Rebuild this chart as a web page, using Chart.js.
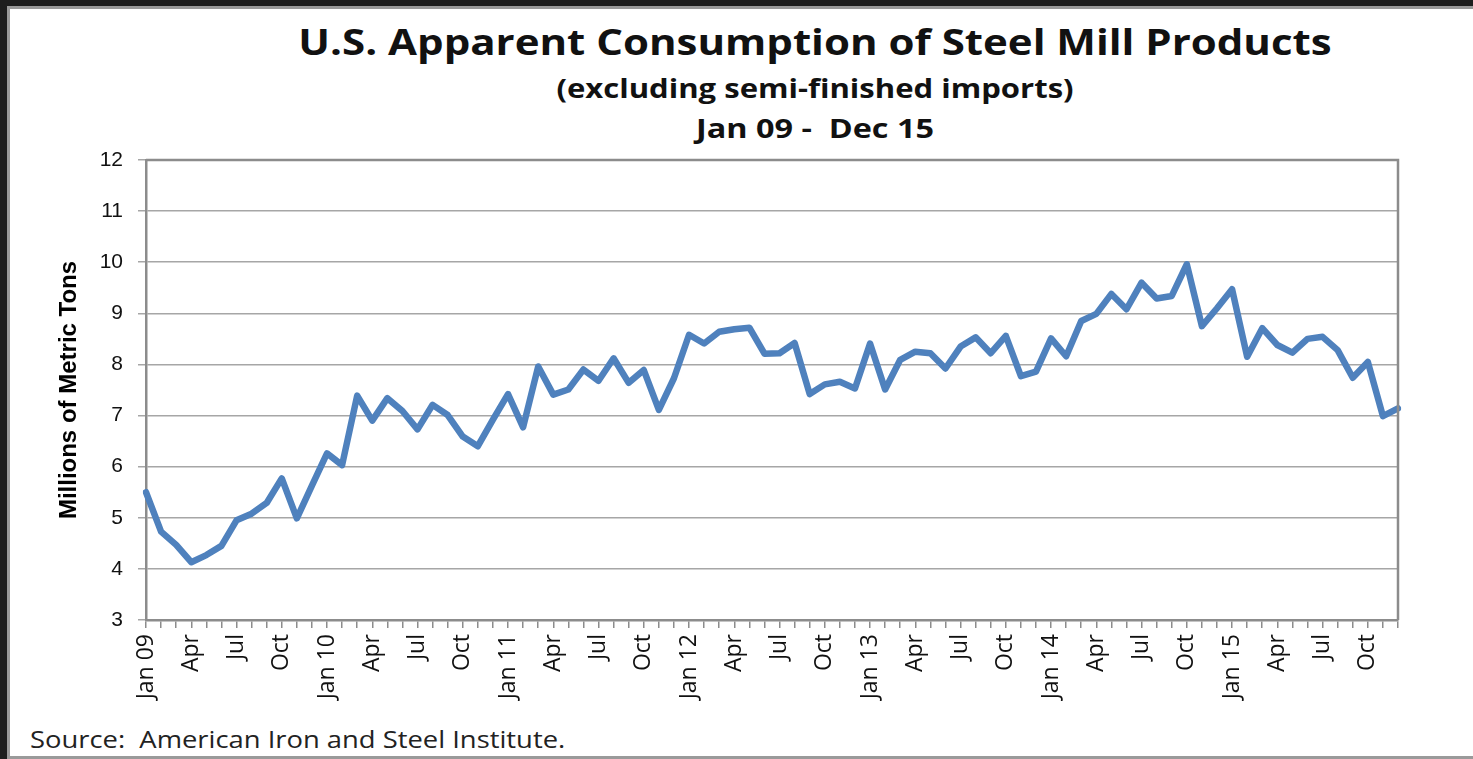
<!DOCTYPE html>
<html lang="en">
<head>
  <meta charset="UTF-8">
  <title>U.S. Apparent Consumption of Steel Mill Products</title>
  <script src="https://cdn.jsdelivr.net/npm/chart.js"></script>
  <style>
    html, body {
      margin: 0;
      padding: 0;
      width: 1473px;
      height: 759px;
      overflow: hidden;
      background: #1e1e1e;
    }

    .frame {
      position: absolute;
      left: 7px;
      top: 6px;
      width: 1470px;
      height: 747px;
      background: #fff;
      border: 3px solid #9a9a9a;
    }

    /* the original slide is stretched sideways, hence the scaleX */
    .head {
      position: absolute;
      left: 815px;
      text-align: center;
      font-family: 'Open Sans', sans-serif;
      font-weight: bold;
      color: #111;
      white-space: nowrap;
    }

    #title { top: 18px; font-size: 35px; line-height: 48px; transform: translateX(-50%) scaleX(1.2); }
    #subtitle { top: 69px; font-size: 27px; line-height: 38px; transform: translateX(-50%) scaleX(1.15); }
    #range { top: 109px; font-size: 27px; line-height: 38px; transform: translateX(-50%) scaleX(1.2); }

    #source {
      position: absolute;
      left: 30px;
      top: 723px;
      font-family: 'Open Sans', sans-serif;
      font-size: 23px;
      line-height: 32px;
      color: #222;
      white-space: nowrap;
      transform-origin: left center;
      transform: scaleX(1.19);
    }

    canvas {
      position: absolute;
      left: 0;
      top: 0;
    }
  </style>
</head>
<body>
  <div class="frame"></div>
  <div class="head" id="title">U.S. Apparent Consumption of Steel Mill Products</div>
  <div class="head" id="subtitle">(excluding semi-finished imports)</div>
  <div class="head" id="range">Jan 09 -&nbsp; Dec 15</div>
  <div id="source">Source:&nbsp; American Iron and Steel Institute.</div>

  <canvas id="steelChart" width="1473" height="759"></canvas>

  <script>
    // month names and years for the category axis
    const monthNames = ["Jan", "Feb", "Mar", "Apr", "May", "Jun", "Jul", "Aug", "Sep", "Oct", "Nov", "Dec"];
    const years = ["09", "10", "11", "12", "13", "14", "15"];

    // millions of metric tons, Jan 09 .. Dec 15
    const consumption2009 = [5.50, 4.73, 4.47, 4.13, 4.27, 4.45, 4.95, 5.08, 5.29, 5.77, 4.99, 5.63];
    const consumption2010 = [6.26, 6.03, 7.39, 6.90, 7.34, 7.09, 6.73, 7.21, 7.01, 6.59, 6.40, 6.92];
    const consumption2011 = [7.42, 6.77, 7.96, 7.41, 7.51, 7.90, 7.68, 8.12, 7.64, 7.89, 7.11, 7.73];
    const consumption2012 = [8.58, 8.41, 8.64, 8.69, 8.72, 8.21, 8.22, 8.42, 7.42, 7.61, 7.66, 7.53];
    const consumption2013 = [8.41, 7.51, 8.09, 8.25, 8.22, 7.92, 8.35, 8.53, 8.22, 8.56, 7.77, 7.86];
    const consumption2014 = [8.51, 8.16, 8.85, 8.99, 9.38, 9.08, 9.60, 9.29, 9.34, 9.96, 8.75, 9.10];
    const consumption2015 = [9.47, 8.15, 8.71, 8.38, 8.23, 8.50, 8.54, 8.28, 7.74, 8.05, 6.99, 7.14];

    const yMin = 3;
    const yMax = 12;

    const labels = [];
    years.forEach(y => {
      monthNames.forEach(m => {
        labels.push(m === "Jan" ? m + " " + y : m);
      });
    });

    const values = [].concat(
      consumption2009, consumption2010, consumption2011, consumption2012,
      consumption2013, consumption2014, consumption2015
    );

    // top and right edges of the plot box (Excel style)
    const plotFrame = {
      id: "plotFrame",
      afterDraw(chart) {
        const { ctx, chartArea: a } = chart;
        ctx.save();
        ctx.strokeStyle = "#8c8c8c";
        ctx.lineWidth = 2.5;
        ctx.beginPath();
        ctx.moveTo(a.left, a.top);
        ctx.lineTo(a.right, a.top);
        ctx.lineTo(a.right, a.bottom);
        ctx.stroke();
        ctx.restore();
      }
    };

    new Chart(document.getElementById("steelChart"), {
      type: "line",
      data: {
        labels,
        datasets: [{
          label: "Apparent consumption",
          data: values,
          borderColor: "#4f81bd",
          borderWidth: 6.5,
          borderJoinStyle: "round",
          borderCapStyle: "round",
          pointRadius: 0,
          tension: 0,
          fill: false
        }]
      },
      options: {
        responsive: false,
        animation: false,
        layout: {
          padding: { top: 160, right: 75, bottom: 0, left: 0 }
        },
        plugins: {
          legend: { display: false },
          tooltip: { enabled: false }
        },
        scales: {
          x: {
            afterFit(scale) { scale.height = 139; },
            grid: {
              drawOnChartArea: false,
              drawTicks: true,
              tickLength: 8,
              color: "#8c8c8c",
              lineWidth: 1.5
            },
            border: { color: "#8c8c8c", width: 2.5 },
            ticks: {
              autoSkip: false,
              minRotation: 90,
              maxRotation: 90,
              padding: 6,
              color: "#111",
              font: { family: "'Open Sans', sans-serif", size: 23 },
              callback(value, index) {
                return index % 3 === 0 ? this.getLabelForValue(value) : "";
              }
            }
          },
          y: {
            min: yMin,
            max: yMax,
            afterFit(scale) { scale.width = 146; },
            grid: {
              color: "#a6a6a6",
              lineWidth: 1.5,
              tickLength: 8
            },
            border: { color: "#8c8c8c", width: 2.5 },
            ticks: {
              stepSize: 1,
              padding: 15,
              color: "#111",
              font: { family: "'Liberation Sans', Arial, sans-serif", size: 21 }
            },
            title: {
              display: true,
              text: "Millions of Metric Tons",
              color: "#000",
              padding: { top: 55, bottom: 0 },
              font: { family: "'Liberation Sans Narrow', 'Liberation Sans', sans-serif", size: 24, weight: "bold" }
            }
          }
        }
      },
      plugins: [plotFrame]
    });
  </script>
</body>
</html>
